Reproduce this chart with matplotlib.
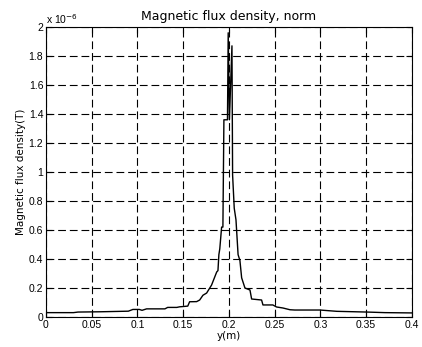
import matplotlib
matplotlib.use("Agg")
import matplotlib.pyplot as plt
from matplotlib.ticker import FuncFormatter

# y position (m)
y_pos = [0.0, 0.03, 0.035, 0.06, 0.09, 0.095, 0.102, 0.105, 0.11, 0.13, 0.133,
         0.143, 0.146, 0.155, 0.157, 0.1647, 0.168, 0.1716, 0.1756, 0.181,
         0.1866, 0.188, 0.189, 0.190, 0.192, 0.1934, 0.1945, 0.1984, 0.1992,
         0.2005, 0.2033, 0.204, 0.2058, 0.2077, 0.210, 0.212, 0.2139, 0.2175,
         0.223, 0.2248, 0.2357, 0.2372, 0.248, 0.252, 0.259, 0.2667, 0.272,
         0.2995, 0.318, 0.351, 0.3705, 0.4]
# flux density norm (x 1e-6 T)
b_norm = [0.030, 0.030, 0.034, 0.036, 0.040, 0.052, 0.052, 0.046, 0.056, 0.056,
          0.066, 0.066, 0.070, 0.075, 0.105, 0.106, 0.117, 0.150, 0.165, 0.22,
          0.31, 0.32, 0.43, 0.47, 0.62, 0.62, 1.36, 1.36, 1.96,
          1.36, 1.87, 0.98, 0.75, 0.67, 0.43, 0.39, 0.27, 0.20,
          0.186, 0.124, 0.117, 0.083, 0.083, 0.069, 0.062, 0.050, 0.048,
          0.048, 0.039, 0.034, 0.030, 0.028]

x_ticks = [0, 0.05, 0.1, 0.15, 0.2, 0.25, 0.3, 0.35, 0.4]
y_ticks = [0, 0.2, 0.4, 0.6, 0.8, 1.0, 1.2, 1.4, 1.6, 1.8, 2.0]

plt.rcParams['font.family'] = ['Liberation Sans', 'DejaVu Sans']

fig = plt.figure(figsize=(4.22, 3.47), dpi=100)
ax = fig.add_axes([0.109, 0.0865, 0.867, 0.8357])
ax.plot(y_pos, b_norm, color='black', lw=1.0)
ax.set_xlim(0, 0.4)
ax.set_ylim(0, 2)
ax.set_xticks(x_ticks)
ax.set_yticks(y_ticks)
fmt = FuncFormatter(lambda v, p: ('%g' % round(v, 4)))
ax.xaxis.set_major_formatter(fmt)
ax.yaxis.set_major_formatter(fmt)
ax.tick_params(direction='in', top=True, right=True, labelsize=7.5, length=4,
               width=0.8, pad=2)
ax.grid(True, color='black', linestyle=(0, (7, 3.5)), linewidth=0.8)
for s in ax.spines.values():
    s.set_linewidth(0.8)
ax.set_title('Magnetic flux density, norm', fontsize=9, pad=5,
             family='DejaVu Sans')
ax.set_xlabel('y(m)', fontsize=7.5, labelpad=1, family='DejaVu Sans')
ax.set_ylabel('Magnetic flux density(T)', fontsize=7.5, labelpad=2,
              family='DejaVu Sans')
ax.text(0.0, 1.005, r'x 10$^{-6}$', transform=ax.transAxes, fontsize=7.5,
        ha='left', va='bottom')
fig.savefig('out.png', dpi=100)
